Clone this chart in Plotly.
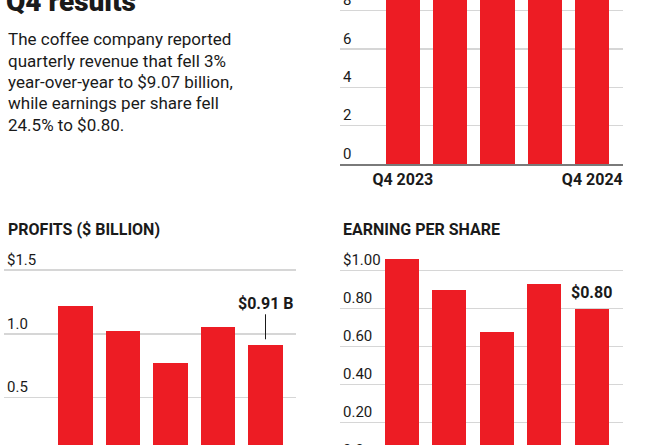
import plotly.graph_objects as go

# ---------------- data ----------------
quarters = ["Q4 2023", "Q1 2024", "Q2 2024", "Q3 2024", "Q4 2024"]
revenue = [9.37, 9.43, 8.56, 9.11, 9.07]      # $ billion
profits = [1.22, 1.02, 0.77, 1.05, 0.91]      # $ billion
eps = [1.06, 0.90, 0.68, 0.93, 0.80]          # $ per share

rev_ticks = [0, 2, 4, 6, 8]
rev_ticktext = ["0", "2", "4", "6", "8"]
profit_ticks = [0, 0.5, 1.0, 1.5]
profit_ticktext = ["0", "0.5", "1.0", "$1.5"]
eps_ticks = [0, 0.2, 0.4, 0.6, 0.8, 1.0]
eps_ticktext = ["0.0", "0.20", "0.40", "0.60", "0.80", "$1.00"]
x_ticks = ["Q4 2023", "Q4 2024"]

title_text = "Q4 results"
intro_lines = [
    "The coffee company reported",
    "quarterly revenue that fell 3%",
    "year-over-year to $9.07 billion,",
    "while earnings per share fell",
    "24.5% to $0.80.",
]
profit_title = "PROFITS ($ BILLION)"
eps_title = "EARNING PER SHARE"
profit_callout = "$0.91 B"
eps_callout = "$0.80"

# ---------------- style ----------------
# The figure continues a little below the 445 px window (the lower charts run off the page).
W, H = 650, 470
RED = "#ed1c24"
GRID = "#d6d6d6"
TXT = "#1a1a1a"
FONT = "Roboto"


def px_y(p):
    return 1 - p / H


def px_x(p):
    return p / W


fig = go.Figure()
fig.add_trace(go.Bar(x=quarters, y=revenue, marker=dict(color=RED, line=dict(width=0)),
                     width=0.724, xaxis="x", yaxis="y", hoverinfo="skip"))
fig.add_trace(go.Bar(x=quarters, y=profits, marker=dict(color=RED, line=dict(width=0)),
                     width=0.722, xaxis="x2", yaxis="y2", hoverinfo="skip"))
fig.add_trace(go.Bar(x=quarters, y=eps, marker=dict(color=RED, line=dict(width=0)),
                     width=0.717, xaxis="x3", yaxis="y3", hoverinfo="skip"))

yax_common = dict(
    automargin=False,
    showgrid=True, gridcolor=GRID, gridwidth=1.5, zeroline=False, showline=False,
    ticks="", ticklen=0, ticklabelposition="inside top", ticklabeloverflow="allow",
    tickfont=dict(family=FONT, size=15, color=TXT), tickmode="array",
)
xax_common = dict(automargin=False, type="category", showgrid=False, zeroline=False, ticks="", ticklen=0)

fig.update_layout(
    width=W, height=H,
    margin=dict(l=0, r=0, t=0, b=0, pad=0, autoexpand=False),
    paper_bgcolor="white", plot_bgcolor="white",
    showlegend=False, bargap=0,
    font=dict(family=FONT, color=TXT),
    xaxis=dict(xax_common, domain=[px_x(340), px_x(623)], range=[-1.327, 4.648], anchor="y",
               tickmode="array", tickvals=x_ticks, ticktext=x_ticks,
               tickfont=dict(family=FONT, size=16, weight="bold", color=TXT),
               showline=True, linecolor="#7a7a7a", linewidth=2),
    yaxis=dict(yax_common, domain=[px_y(164), 1.0], range=[0, 164 / 19.16], anchor="x",
               tickvals=rev_ticks, ticktext=rev_ticktext),
    xaxis2=dict(xax_common, domain=[px_x(4), px_x(296)], range=[-1.505, 4.642], anchor="y2",
                showticklabels=False, showline=False),
    yaxis2=dict(yax_common, domain=[0.0, px_y(262)],
                range=[(461.5 - H) / 127.7, 199.5 / 127.7], anchor="x2",
                tickvals=profit_ticks, ticktext=profit_ticktext),
    xaxis3=dict(xax_common, domain=[px_x(340), px_x(622.7)], range=[-1.308, 4.656], anchor="y3",
                showticklabels=False, showline=False),
    yaxis3=dict(yax_common, domain=[0.0, px_y(250)],
                range=[(460.7 - H) / 190, 210.7 / 190], anchor="x3",
                tickvals=eps_ticks, ticktext=eps_ticktext),
)

annotations = [
    dict(text=title_text, xref="paper", yref="paper", x=px_x(4), y=px_y(19.5),
         xanchor="left", yanchor="bottom", showarrow=False,
         font=dict(family=FONT, size=28, weight=900, color=TXT)),
    dict(text=profit_title, xref="paper", yref="paper", x=px_x(6), y=px_y(241),
         xanchor="left", yanchor="bottom", showarrow=False,
         font=dict(family=FONT, size=16, weight="bold", color=TXT)),
    dict(text=eps_title, xref="paper", yref="paper", x=px_x(341), y=px_y(241),
         xanchor="left", yanchor="bottom", showarrow=False,
         font=dict(family=FONT, size=16, weight="bold", color=TXT)),
    dict(text=profit_callout, xref="x2", yref="y2", x=quarters[-1], y=profits[-1],
         showarrow=True, arrowhead=0, arrowwidth=1, arrowcolor=TXT, ax=0, ay=-42, standoff=6,
         font=dict(family=FONT, size=16, weight="bold", color=TXT)),
    dict(text=eps_callout, xref="x3", yref="y3", x=quarters[-1], y=eps[-1],
         showarrow=False, yshift=16,
         font=dict(family=FONT, size=16, weight="bold", color=TXT)),
]
# intro paragraph, one line per annotation so the line spacing matches
for i, line in enumerate(intro_lines):
    annotations.append(dict(
        text=line, xref="paper", yref="paper", x=px_x(6), y=px_y(39.5 + 21.3 * i),
        xanchor="left", yanchor="middle", align="left", showarrow=False,
        font=dict(family=FONT, size=17, color=TXT)))
fig.update_layout(annotations=annotations)

fig.write_html(
    "out.html",
    config={"displayModeBar": False, "staticPlot": True},
    post_script="document.body.style.margin='0';document.body.style.overflow='hidden';",
)
